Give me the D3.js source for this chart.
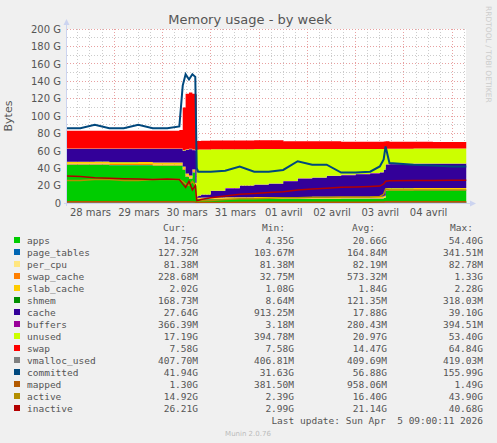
<!DOCTYPE html>
<html><head><meta charset="utf-8">
<script src="https://cdn.jsdelivr.net/npm/d3@7"></script>
<style>body{margin:0;background:#f0f0f0}svg{display:block}</style>
</head><body><svg id="c" width="497" height="443"></svg>
<script>
// time points, days after 28 mars 00:00
const T = [0.02,0.3,0.6,0.9,1.2,1.5,1.8,2.1,2.35,2.42,2.48,2.55,2.62,2.68,2.71,2.74,2.8,3.0,3.3,3.6,3.9,4.2,4.5,4.8,5.1,5.4,5.7,6.0,6.3,6.5,6.58,6.62,6.7,7.2,7.6,8.0,8.29];
const apps        = [44,44,44,43.5,43.5,43.5,43,43,43,38,30,28,35,20,4.5,4.4,4.4,4.35,4.5,4.5,4.6,4.6,4.7,4.7,4.8,4.8,4.9,4.9,5,5,6,14.5,14.6,14.7,14.7,14.75,14.75];
const page_tables = [0.15,0.15,0.15,0.15,0.15,0.15,0.15,0.15,0.15,0.2,0.3,0.3,0.3,0.2,0.13,0.13,0.13,0.13,0.13,0.13,0.13,0.13,0.13,0.13,0.13,0.13,0.13,0.13,0.13,0.13,0.13,0.13,0.13,0.13,0.13,0.13,0.13];
const per_cpu     = [0.08,0.08,0.08,0.08,0.08,0.08,0.08,0.08,0.08,0.08,0.08,0.08,0.08,0.08,0.08,0.08,0.08,0.08,0.08,0.08,0.08,0.08,0.08,0.08,0.08,0.08,0.08,0.08,0.08,0.08,0.08,0.08,0.08,0.08,0.08,0.08,0.08];
const swap_cache  = [1.0,1.0,1.1,1.0,1.0,1.2,1.1,1.0,1.0,1.3,1.2,1.0,1.0,0.8,0.2,0.2,0.2,0.2,0.2,0.2,0.2,0.2,0.2,0.2,0.2,0.2,0.2,0.2,0.2,0.2,0.2,0.23,0.23,0.23,0.23,0.23,0.23];
const slab_cache  = [2.2,2.2,2.2,2.2,2.2,2.2,2.2,2.2,2.2,2.2,2.2,2.2,2.2,2.0,1.1,1.2,1.3,1.5,1.6,1.7,1.8,1.8,1.8,1.8,1.8,1.8,1.8,1.8,1.8,1.8,1.9,2.0,2.0,2.0,2.0,2.02,2.02];
const shmem       = [0.12,0.12,0.12,0.12,0.12,0.12,0.12,0.12,0.12,0.12,0.12,0.12,0.12,0.12,0.12,0.12,0.12,0.12,0.12,0.12,0.12,0.12,0.12,0.12,0.12,0.12,0.12,0.12,0.12,0.12,0.12,0.17,0.17,0.17,0.17,0.17,0.17];
const cache       = [14.45,14.45,14.35,14.95,14.95,14.75,15.35,15.45,15.45,18.1,27,30,22,37,1.17,2.27,3.27,7.32,10.17,13.17,14.07,15.07,17.97,20.97,21.87,23.87,24.77,25.77,26.67,27.67,29.67,27.0,27.4,27.8,27.7,27.65,27.64];
const buffers     = [0.3,0.3,0.3,0.3,0.3,0.3,0.3,0.3,0.3,0.3,0.3,0.3,0.3,0.3,0.35,0.35,0.35,0.35,0.35,0.35,0.35,0.35,0.35,0.35,0.35,0.35,0.35,0.35,0.35,0.35,0.35,0.37,0.37,0.37,0.37,0.37,0.37];
const unused      = [0.4,0.4,0.4,0.4,0.4,0.4,0.4,0.4,0.4,0.5,0.5,0.5,0.5,0.5,53.65,52.65,51.65,47.65,44.65,41.65,40.65,39.65,36.65,33.65,32.65,30.65,29.65,28.65,27.65,26.65,23.65,17.9,17.4,17.2,17.2,17.2,17.19];
const swap        = [20.3,20.3,20.3,20.3,20.3,20.3,20.3,20.3,21.3,49,64,64.5,64,64,10,10,10,10,10,10,10,10,9,9,9,9,8.5,8.5,8.5,8.5,8.5,8.5,8.0,7.8,7.6,7.6,7.58];
const vmalloc_used= [0.41,0.41,0.41,0.41,0.41,0.41,0.41,0.41,0.41,0.41,0.41,0.41,0.41,0.41,0.41,0.41,0.41,0.41,0.41,0.41,0.41,0.41,0.41,0.41,0.41,0.41,0.41,0.41,0.41,0.41,0.41,0.41,0.41,0.41,0.41,0.41,0.41];
const committed   = [86,86,90,86,86,90,86,86,88,135,148,142,148,145,40,36,36,36,37,42,36,36,38,48,44,44,35,35,36,42,50,65,46,44,43,42,41.94];
const mapped      = [1.3,1.3,1.3,1.3,1.3,1.3,1.3,1.3,1.3,1.4,1.49,1.4,1.4,1.2,0.4,0.4,0.5,0.6,0.7,0.8,0.8,0.9,0.9,0.9,1.0,1.0,1.0,1.0,1.0,1.1,1.2,1.3,1.3,1.3,1.3,1.3,1.3];
const active      = [26,26,27,27,26,26,27,27,27,25,22,20,25,20,3,2.4,2.5,3,4,5,5,5.5,6,6,6.5,6.5,7,7,7,7.5,10,16,15,15,14.9,14.9,14.92];
const inactive    = [31,30.5,29,28.5,28,27.5,27,27.5,27,22,18,25,15,20,3,3,4,6,8,10,11,12,13,15,16,17,18,18.5,19,19.5,22,25,25.5,25.8,26,26.1,26.21];

const names = ["apps","page_tables","per_cpu","swap_cache","slab_cache","shmem","cache","buffers","unused","swap","vmalloc_used","committed","mapped","active","inactive"];
const colors = ["#00CC00","#0066B3","#FFE680","#FF8000","#FFCC00","#008F00","#330099","#990099","#CCFF00","#FF0000","#808080","#00487D","#B35A00","#B38F00","#B30000"];
const curV = ["14.75G","127.32M","81.38M","228.68M","2.02G","168.73M","27.64G","366.39M","17.19G","7.58G","407.70M","41.94G","1.30G","14.92G","26.21G"];
const minV = ["4.35G","103.67M","81.38M","32.75M","1.08G","8.64M","913.25M","3.18M","394.78M","7.58G","406.81M","31.63G","381.50M","2.39G","2.99G"];
const avgV = ["20.66G","164.84M","82.19M","573.32M","1.84G","121.35M","17.88G","280.43M","20.97G","14.47G","409.69M","56.88G","958.06M","16.40G","21.14G"];
const maxV = ["54.40G","341.51M","82.78M","1.33G","2.28G","318.03M","39.10G","394.51M","53.40G","64.84G","419.03M","155.99G","1.49G","43.90G","40.68G"];
const yTicks = [0,20,40,60,80,100,120,140,160,180,200];
const dayLabels = ["28 mars","29 mars","30 mars","31 mars","01 avril","02 avril","03 avril","04 avril"];

const series = [apps,page_tables,per_cpu,swap_cache,slab_cache,shmem,cache,buffers,unused,swap,vmalloc_used,committed,mapped,active,inactive];
const base = new Date(2026,2,28,0,0,0).getTime();
const toDate = t => new Date(base + t*86400000);
const svg = d3.select("#c");
const L=67,R=466,Tp=29,B=203;
const x = d3.scaleTime().domain([toDate(0.024),toDate(0.024+399/48.3)]).range([L,R]);
const y = d3.scaleLinear().domain([0,200]).range([B,Tp]);
const font="DejaVu Sans";
svg.append("rect").attr("x",L).attr("y",Tp).attr("width",R-L).attr("height",B-Tp).attr("fill","#fff");

// grid
const g=svg.append("g");
const minorT = d3.timeHour.every(6).range(x.domain()[0],x.domain()[1]);
minorT.forEach(d=>{const mid=d.getHours()===0;
 g.append("line").attr("x1",x(d)).attr("x2",x(d)).attr("y1",Tp).attr("y2",B).attr("stroke",mid?"#e8a0a0":"#cccccc").attr("stroke-dasharray","1,2").attr("shape-rendering","crispEdges");});
d3.range(0,201,10).forEach(v=>{
 g.append("line").attr("x1",L).attr("x2",R).attr("y1",y(v)).attr("y2",y(v)).attr("stroke",v%20===0?"#e8a0a0":"#cccccc").attr("stroke-dasharray","1,2").attr("shape-rendering","crispEdges");});

// stack
const data = T.map((t,i)=>{const o={t:toDate(t)};names.forEach((n,k)=>o[n]=series[k][i]);return o;});
const stackKeys = names.slice(0,10);
const st = d3.stack().keys(stackKeys)(data);
const area = d3.area().x(d=>x(d.data.t)).y0(d=>y(d[0])).y1(d=>y(d[1])).curve(d3.curveStepAfter);
st.forEach((s,k)=>svg.append("path").attr("d",area(s)).attr("fill",colors[k]));
names.slice(10).forEach((n,j)=>{const k=10+j;
 const line=d3.line().x(d=>x(d.t)).y(d=>y(d[n])).curve(d3.curveLinear);
 svg.append("path").attr("d",line(data)).attr("fill","none").attr("stroke",colors[k]).attr("stroke-width",n==="committed"?2:1.5);});

// axes
const yAx = d3.axisLeft(y).tickValues(yTicks).tickFormat(v=>v===0?"0":v+" G").tickSize(0).tickPadding(6);
const ya=svg.append("g").attr("transform",`translate(${L},0)`).call(yAx);
ya.select(".domain").remove();
ya.selectAll("text").attr("font-family",font).attr("font-size",10).attr("fill","#555");
const xt = dayLabels.map((l,i)=>toDate(i+0.5));
const xAx = d3.axisBottom(x).tickValues(xt).tickFormat((d,i)=>dayLabels[i]).tickSize(0).tickPadding(6);
const xa=svg.append("g").attr("transform",`translate(0,${B})`).call(xAx);
xa.select(".domain").remove();
xa.selectAll("text").attr("font-family",font).attr("font-size",10).attr("fill","#555");
svg.append("line").attr("x1",L-0.5).attr("x2",L-0.5).attr("y1",B+3).attr("y2",Tp-6).attr("stroke","#ccd4f0");
svg.append("line").attr("x1",L-3).attr("x2",R+6).attr("y1",B+0.5).attr("y2",B+0.5).attr("stroke","#ccd4f0");
svg.append("path").attr("d",`M${L-3.5},${Tp-4} L${L+2.5},${Tp-4} L${L-0.5},${Tp-10}Z`).attr("fill","#ccd4f0");
svg.append("path").attr("d",`M${R+4},${B-2.5} L${R+4},${B+3.5} L${R+10},${B+0.5}Z`).attr("fill","#ccd4f0");

svg.append("text").attr("x",250).attr("y",24).attr("text-anchor","middle").attr("font-family",font).attr("font-size",13).attr("fill","#555").text("Memory usage - by week");
svg.append("text").attr("transform","translate(12,116) rotate(-90)").attr("text-anchor","middle").attr("font-family",font).attr("font-size",11).attr("fill","#555").text("Bytes");
svg.append("text").attr("transform","translate(486,6) rotate(90)").attr("font-family",font).attr("font-size",7.5).attr("fill","#ccc").text("RRDTOOL / TOBI OETIKER");

// legend
const mono="DejaVu Sans Mono", fs=9.5;
const hdr=[["Cur:",186],["Min:",285],["Avg:",375],["Max:",473]];
hdr.forEach(h=>svg.append("text").attr("x",h[1]).attr("y",231).attr("text-anchor","end").attr("font-family",mono).attr("font-size",fs).attr("fill","#555").text(h[0]));
names.forEach((n,i)=>{const yy=244+i*12;
 svg.append("rect").attr("x",14).attr("y",yy-7).attr("width",6).attr("height",6).attr("fill",colors[i]);
 svg.append("text").attr("x",27).attr("y",yy).attr("font-family",mono).attr("font-size",fs).attr("fill","#555").text(n);
 [[curV,198],[minV,294],[avgV,387],[maxV,483]].forEach(c=>svg.append("text").attr("x",c[1]).attr("y",yy).attr("text-anchor","end").attr("font-family",mono).attr("font-size",fs).attr("fill","#555").text(c[0][i]));
});
svg.append("text").attr("x",483).attr("y",424).attr("text-anchor","end").attr("font-family",mono).attr("font-size",fs).attr("fill","#555").style("white-space","pre").text("Last update: Sun Apr  5 09:00:11 2026");
svg.append("text").attr("x",248).attr("y",436).attr("text-anchor","middle").attr("font-family",font).attr("font-size",7).attr("fill","#bbb").text("Munin 2.0.76");
</script></body></html>
